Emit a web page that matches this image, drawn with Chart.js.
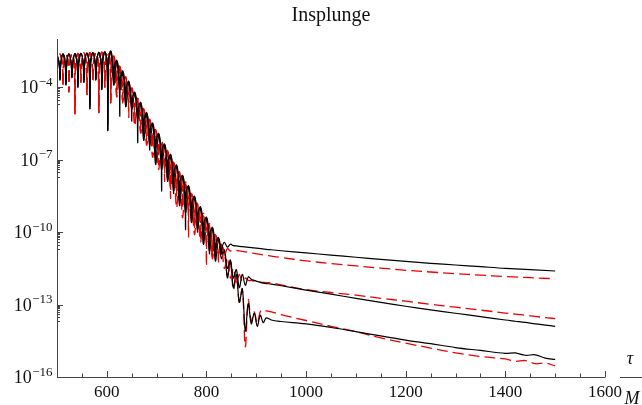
<!DOCTYPE html>
<html>
<head>
<meta charset="utf-8">
<script src="https://cdn.jsdelivr.net/npm/chart.js@4.4.1/dist/chart.umd.min.js"></script>
<style>
  html, body { margin: 0; padding: 0; background: #fff; }
  #wrap { width: 642px; height: 405px; position: relative; }
</style>
</head>
<body>
<div id="wrap"><canvas id="myChart" width="642" height="405"></canvas></div>
<script>
// every value below is log10 of the amplitude

// black solid, top pair: [tau, log10]
const blackTop = [
  [500, -2.64], [504.5, -3.04], [506, -3.7], [507.5, -3.04], [512, -2.62],
  [516.5, -3.03], [518, -3.9], [519.5, -3.03], [524, -2.61],
  [528.5, -3.02], [530, -3.6], [531.5, -3.02], [536, -2.60],
  [540.5, -3.01], [542, -4.0], [543.5, -3.01], [548, -2.59],
  [552.5, -3.0], [554, -3.8], [555.5, -3.0], [560, -2.58],
  [564.5, -2.99], [566, -4.9], [567.5, -2.99], [572, -2.56],
  [576.5, -2.98], [578, -3.7], [579.5, -2.98], [584, -2.55],
  [588.5, -2.96], [590, -4.1], [591.5, -2.96], [596, -2.53],
  [600.5, -2.95], [602, -5.8], [603.5, -2.95], [608, -2.51],
  [612.5, -3.01], [614, -3.9], [615.5, -3.12], [620, -2.88],
  [624.5, -3.44], [626, -5.2], [627.5, -3.55], [632, -3.32],
  [636.5, -3.87], [638, -4.8], [639.5, -3.98], [644, -3.75],
  [648.5, -4.31], [650, -5.4], [651.5, -4.42], [656, -4.2],
  [660.5, -4.74], [662, -6.3], [663.5, -4.85], [668, -4.62],
  [672.5, -5.17], [674, -6.0], [675.5, -5.28], [680, -5.05],
  [684.5, -5.6], [686, -6.6], [687.5, -5.71], [692, -5.48],
  [696.5, -6.03], [698, -7.0], [699.5, -6.14], [704, -5.92],
  [708.5, -6.47], [710, -8.3], [711.5, -6.58], [716, -6.35],
  [720.5, -6.9], [722, -7.8], [723.5, -7.01], [728, -6.78],
  [732.5, -7.33], [734, -8.4], [735.5, -7.44], [740, -7.22],
  [744.5, -7.76], [746, -8.7], [747.5, -7.87], [752, -7.65],
  [756.5, -8.19], [758, -9.9], [759.5, -8.3], [764, -8.08],
  [768.5, -8.63], [770, -9.6], [771.5, -8.74], [776, -8.52],
  [780.5, -9.06], [782, -10.0], [783.5, -9.17], [788, -8.95],
  [792.5, -9.49], [794, -10.5], [795.5, -9.6], [800, -9.38],
  [804.5, -9.92], [806, -10.9], [807.5, -10.03], [812, -9.8],
  [816.5, -10.35], [818, -11.0], [819.5, -10.46], [824, -10.22],
  [828.5, -10.6], [830, -10.9], [831.5, -10.62], [836, -10.42],
  [842, -10.62], [848, -10.5], [854, -10.56], [860, -10.57], [872, -10.60],
  [890, -10.64], [920, -10.71], [930, -10.73], [950, -10.77], [1000, -10.86],
  [1050, -10.95], [1100, -11.04], [1150, -11.13], [1200, -11.21], [1250, -11.29],
  [1300, -11.36], [1350, -11.43], [1400, -11.50], [1500, -11.61],
];

// red dashed, top pair
const redTop = [
  [500, -3.3], [501.5, -3.04], [506, -2.63],
  [510.5, -3.03], [512, -3.9], [513.5, -3.03], [518, -2.62],
  [522.5, -3.02], [524, -4.2], [525.5, -3.02], [530, -2.61],
  [534.5, -3.01], [536, -5.1], [537.5, -3.01], [542, -2.60],
  [546.5, -3.0], [548, -3.8], [549.5, -3.0], [554, -2.58],
  [558.5, -2.99], [560, -4.3], [561.5, -2.99], [566, -2.57],
  [570.5, -2.98], [572, -3.7], [573.5, -2.98], [578, -2.55],
  [582.5, -2.97], [584, -5.06], [585.5, -2.97], [590, -2.54],
  [594.5, -2.96], [596, -4.0], [597.5, -2.96], [602, -2.52],
  [606.5, -2.94], [608, -4.65], [609.5, -2.94], [614, -2.70],
  [618.5, -3.23], [620, -4.3], [621.5, -3.33], [626, -3.12],
  [630.5, -3.66], [632, -4.7], [633.5, -3.77], [638, -3.56],
  [642.5, -4.09], [644, -5.25], [645.5, -4.2], [650, -4.0],
  [654.5, -4.52], [656, -5.4], [657.5, -4.63], [662, -4.45],
  [666.5, -4.95], [668, -5.9], [669.5, -5.06], [674, -4.88],
  [678.5, -5.39], [680, -6.3], [681.5, -5.5], [686, -5.32],
  [690.5, -5.82], [692, -6.5], [693.5, -5.93], [698, -5.75],
  [702.5, -6.25], [704, -7.2], [705.5, -6.36], [710, -6.18],
  [714.5, -6.68], [716, -7.9], [717.5, -6.79], [722, -6.62],
  [726.5, -7.11], [728, -8.6], [729.5, -7.22], [734, -7.05],
  [738.5, -7.55], [740, -8.5], [741.5, -7.66], [746, -7.5],
  [750.5, -7.98], [752, -9.0], [753.5, -8.09], [758, -7.92],
  [762.5, -8.41], [764, -10.2], [765.5, -8.52], [770, -8.35],
  [774.5, -8.84], [776, -9.8], [777.5, -8.95], [782, -8.8],
  [786.5, -9.27], [788, -10.3], [789.5, -9.38], [794, -9.22],
  [798.5, -9.71], [800, -11.4], [801.5, -9.82], [806, -9.65],
  [810.5, -10.14], [812, -11.0], [813.5, -10.25], [818, -10.1],
  [822.5, -10.5], [824, -11.3], [825.5, -10.6], [830, -10.5],
  [836, -10.95], [842, -10.68], [848, -10.78], [854, -10.74], [860, -10.76],
  [872, -10.80], [890, -10.86], [920, -10.96], [930, -10.99], [950, -11.05],
  [1000, -11.19], [1050, -11.30], [1100, -11.40], [1150, -11.49], [1200, -11.58],
  [1250, -11.65], [1300, -11.72], [1350, -11.78], [1400, -11.84], [1500, -11.93],
];

// the middle and bottom pairs sit on top of the top pair up to tau ~ 610
const tauDecay = [614, 620, 626, 632, 638, 644, 650, 656, 662, 668,
  674, 680, 686, 692, 698, 704, 710, 716, 722, 728,
  734, 740, 746, 752, 758, 764, 770, 776, 782, 788,
  794, 800, 806, 812, 818, 824, 830, 836, 842, 848,
  854, 860, 866, 872, 878, 884, 890, 896, 902, 908, 914, 920];
const tauTail = [930, 950, 1000, 1050, 1100, 1150, 1200, 1250, 1300, 1350, 1400, 1420, 1440, 1460, 1480, 1500];

const blackMid = [-3.9, -2.95, -4.1, -3.38, -4.8, -3.8, -4.7, -4.25, -5.3, -4.68,
  -6.2, -5.1, -5.9, -5.52, -7.2, -5.95, -7.0, -6.4, -7.9, -6.82,
  -7.7, -7.25, -8.9, -7.68, -8.6, -8.12, -9.6, -8.55, -9.3, -8.98,
  -10.5, -9.42, -10.2, -9.85, -11.2, -10.28, -10.9, -10.75, -11.5, -11.2,
  -11.9, -11.55, -12.3, -11.75, -12.2, -11.85, -11.95, -12.0, -12.04, -12.08, -12.11, -12.13];
const blackMidTail = [-12.15, -12.22, -12.40, -12.57, -12.74, -12.91, -13.07, -13.22, -13.36, -13.50, -13.64, -13.69, -13.74, -13.80, -13.85, -13.90];

const redMid = [-2.74, -4.4, -3.16, -3.9, -3.6, -4.6, -4.04, -5.6, -4.48, -5.2,
  -4.92, -6.4, -5.36, -6.1, -5.8, -7.4, -6.22, -7.1, -6.66, -7.9,
  -7.1, -9.0, -7.54, -8.3, -7.97, -9.1, -8.4, -10.1, -8.84, -9.6,
  -9.27, -10.4, -9.7, -11.0, -10.14, -10.9, -10.58, -11.5, -11.05, -11.9,
  -11.5, -12.1, -11.75, -12.05, -11.9, -12.0, -12.0, -12.03, -12.05, -12.07, -12.08, -12.09];
const redMidTail = [-12.10, -12.18, -12.38, -12.50, -12.61, -12.74, -12.86, -12.99, -13.11, -13.23, -13.35, -13.40, -13.44, -13.49, -13.54, -13.58];

const blackLow = [-3.6, -2.92, -3.9, -3.35, -4.3, -3.78, -4.9, -4.22, -5.1, -4.65,
  -5.6, -5.08, -6.4, -5.5, -6.5, -5.92, -7.4, -6.36, -7.5, -6.8,
  -8.3, -7.22, -8.4, -7.66, -9.2, -8.1, -9.0, -8.52, -9.9, -8.96,
  -9.9, -9.4, -10.8, -9.82, -10.7, -10.25, -11.1, -10.75, -11.9, -11.15,
  -12.3, -11.75, -12.9, -12.35, -14.1, -12.95, -13.8, -13.35, -13.9, -13.44, -13.75, -13.55];
const blackLowTail = [-13.64, -13.70, -13.80, -13.95, -14.12, -14.30, -14.47, -14.62, -14.78, -14.90, -15.02, -15.00, -15.10, -15.08, -15.22, -15.27];

const redLow = [-2.76, -3.7, -3.18, -4.6, -3.62, -4.3, -4.06, -4.9, -4.5, -5.9,
  -4.94, -5.5, -5.38, -6.9, -5.82, -6.6, -6.24, -7.3, -6.68, -8.2,
  -7.12, -8.0, -7.56, -9.4, -8.0, -8.9, -8.42, -9.7, -8.86, -10.4,
  -9.3, -10.0, -9.72, -11.1, -10.16, -10.8, -10.55, -10.85, -11.8, -11.2,
  -12.4, -11.8, -12.9, -12.35, -14.75, -12.8, -13.7, -13.3, -13.8, -13.3, -13.2, -13.26];
const redLowTail = [-13.30, -13.42, -13.66, -13.90, -14.12, -14.38, -14.60, -14.80, -15.00, -15.15, -15.25, -15.35, -15.32, -15.45, -15.42, -15.54];

const xTickLabels = [600, 800, 1000, 1200, 1400, 1600];
const yTickExps = [-4, -7, -10, -13, -16];

const serif = "'Liberation Serif', 'DejaVu Serif', serif";

function fromPairs(pairs) {
  return pairs.map(([t, v]) => ({ x: t, y: Math.pow(10, v) }));
}

function joined(lead, decay, tail) {
  const start = fromPairs(lead.filter((p) => p[0] < 612));
  const taus = tauDecay.concat(tauTail);
  const rest = decay.concat(tail).map((v, i) => ({ x: taus[i], y: Math.pow(10, v) }));
  return start.concat(rest);
}

function line(points, red) {
  return {
    data: points,
    borderColor: red ? "#f00000" : "#000",
    borderWidth: red ? 1.3 : 1.2,
    borderDash: red ? [11, 5] : [],
    pointRadius: 0,
    tension: 0.35,
    fill: false,
  };
}

const axesPlugin = {
  id: "axes",
  afterDraw(chart) {
    const { ctx, chartArea: a, scales } = chart;
    const x = scales.x;
    const y = scales.y;
    ctx.save();
    ctx.strokeStyle = "#444";
    ctx.lineWidth = 1;
    ctx.beginPath();
    ctx.moveTo(a.left + 0.5, a.top);
    ctx.lineTo(a.left + 0.5, a.bottom + 0.5);
    ctx.lineTo(a.right + 0.5, a.bottom + 0.5);
    ctx.stroke();

    // ticks point into the plot
    ctx.beginPath();
    for (let v = 550; v <= 1600; v += 50) {
      const px = Math.round(x.getPixelForValue(v)) + 0.5;
      const len = v % 200 === 0 ? 6 : 3.5;
      ctx.moveTo(px, a.bottom);
      ctx.lineTo(px, a.bottom - len);
    }
    yTickExps.forEach((e) => {
      const py = Math.round(y.getPixelForValue(Math.pow(10, e))) + 0.5;
      ctx.moveTo(a.left, py);
      ctx.lineTo(a.left + 6, py);
      for (let k = 2; k <= 9; k++) {
        const v = k * Math.pow(10, e - 1);
        if (v < 1e-16) continue;
        const pm = Math.round(y.getPixelForValue(v)) + 0.5;
        ctx.moveTo(a.left, pm);
        ctx.lineTo(a.left + 3, pm);
      }
    });
    ctx.stroke();

    ctx.fillStyle = "#111";
    ctx.textBaseline = "alphabetic";

    ctx.font = "17px " + serif;
    ctx.textAlign = "center";
    xTickLabels.forEach((v) => {
      ctx.fillText(String(v), x.getPixelForValue(v), a.bottom + 20);
    });

    ctx.textAlign = "left";
    yTickExps.forEach((e) => {
      const py = y.getPixelForValue(Math.pow(10, e));
      const sup = "\u2212" + Math.abs(e);
      ctx.font = "18px " + serif;
      const w10 = ctx.measureText("10").width;
      ctx.font = "13px " + serif;
      const ws = ctx.measureText(sup).width;
      const x0 = a.left - 5 - w10 - ws;
      ctx.font = "18px " + serif;
      ctx.fillText("10", x0, py + 6);
      ctx.font = "13px " + serif;
      ctx.fillText(sup, x0 + w10 + 0.5, py - 1.5);
    });

    ctx.font = "20px " + serif;
    ctx.textAlign = "center";
    ctx.fillText("Insplunge", (a.left + a.right) / 2, 21);

    ctx.font = "italic 18px " + serif;
    ctx.fillText("\u03c4", 630, 364);
    ctx.fillText("M", 632, 404);
    ctx.beginPath();
    ctx.moveTo(620, 377.5);
    ctx.lineTo(642, 377.5);
    ctx.stroke();
    ctx.restore();
  },
};

new Chart(document.getElementById("myChart"), {
  type: "line",
  data: {
    datasets: [
      line(fromPairs(blackTop), false),
      line(fromPairs(redTop), true),
      line(joined(blackTop, blackMid, blackMidTail), false),
      line(joined(redTop, redMid, redMidTail), true),
      line(joined(blackTop, blackLow, blackLowTail), false),
      line(joined(redTop, redLow, redLowTail), true),
    ],
  },
  options: {
    responsive: false,
    animation: false,
    layout: { padding: { left: 57, right: 37, top: 39, bottom: 28 } },
    plugins: { legend: { display: false }, title: { display: false }, tooltip: { enabled: false } },
    scales: {
      x: { type: "linear", min: 500, max: 1600, display: false },
      y: { type: "logarithmic", min: 1e-16, max: 1e-2, display: false },
    },
  },
  plugins: [axesPlugin],
});
</script>
</body>
</html>
